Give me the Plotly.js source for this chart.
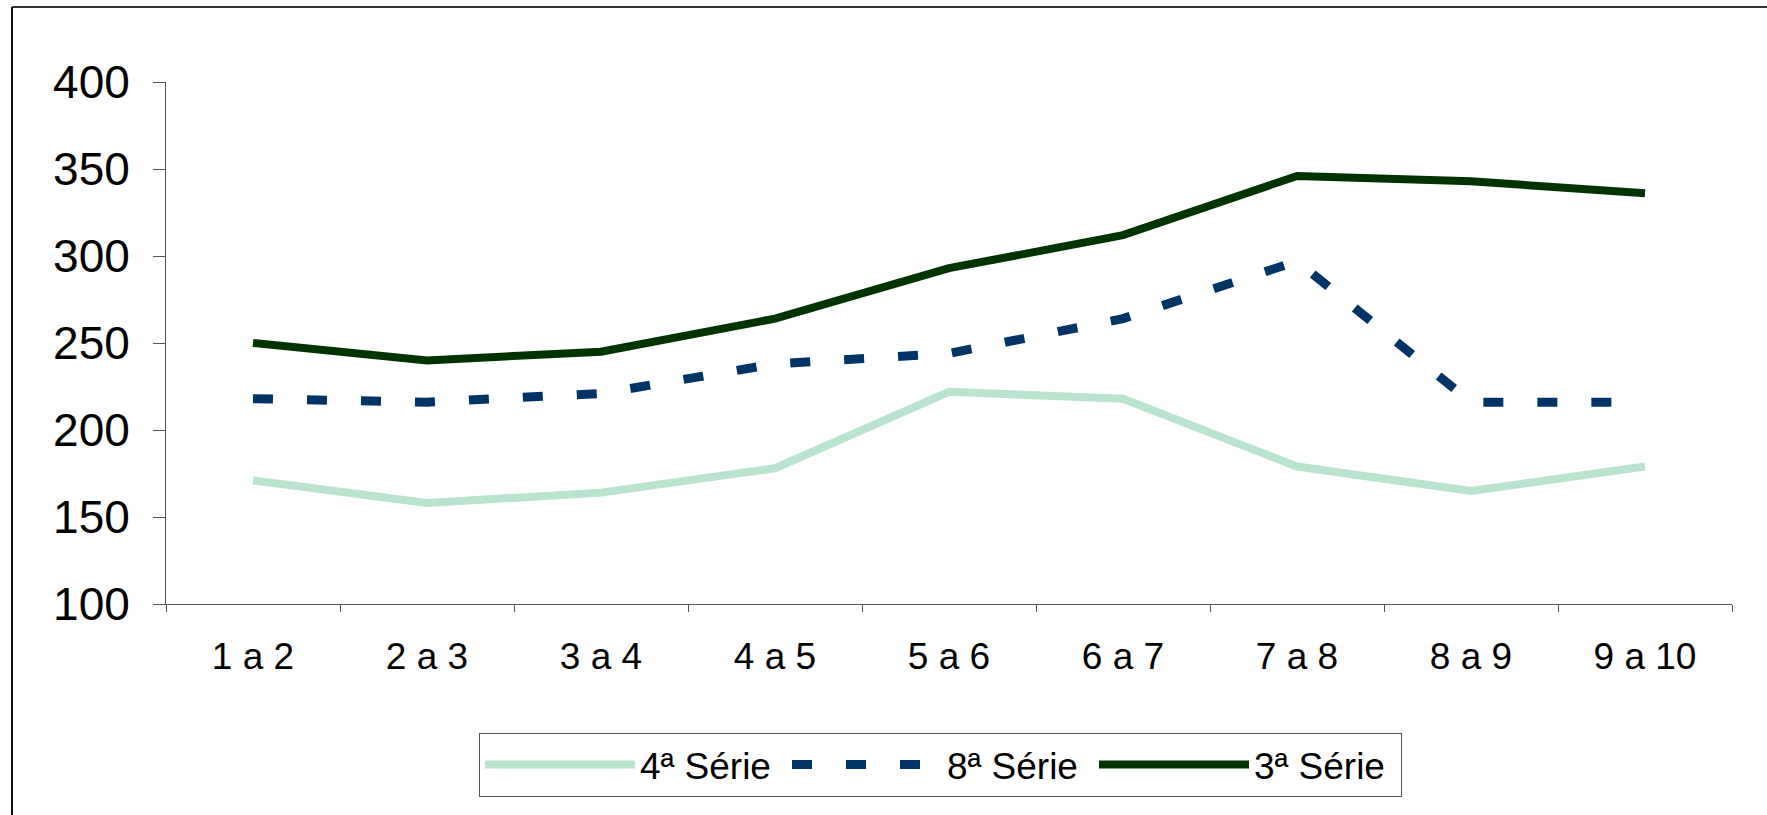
<!DOCTYPE html>
<html>
<head>
<meta charset="utf-8">
<script src="https://cdn.plot.ly/plotly-3.0.1.min.js"></script>
<style>
  html, body { margin: 0; padding: 0; background: #fff; overflow: hidden; }
  #chart { width: 1767px; height: 815px; }
</style>
</head>
<body>
<div id="chart"></div>
<script>
const categories = ['1 a 2', '2 a 3', '3 a 4', '4 a 5', '5 a 6', '6 a 7', '7 a 8', '8 a 9', '9 a 10'];
const serie4Name = '4ª Série';
const serie8Name = '8ª Série';
const serie3Name = '3ª Série';
const serie4 = [171, 158, 164, 178, 222, 218, 179, 165, 179];
const serie8 = [218, 216, 221, 238, 244, 264, 297, 216, 216];
const serie3 = [250, 240, 245, 264, 293, 312, 346, 343, 336];
const yTicks = [100, 150, 200, 250, 300, 350, 400];

const FONT = 'Liberation Sans, Arial, sans-serif';

const traces = [
  { x: categories, y: serie4, name: serie4Name, type: 'scatter', mode: 'lines',
    line: { color: '#b9e4cd', width: 8 } },
  { x: categories, y: serie8, name: serie8Name, type: 'scatter', mode: 'lines',
    line: { color: '#003366', width: 9, dash: '20px,34px' } },
  { x: categories, y: serie3, name: serie3Name, type: 'scatter', mode: 'lines',
    line: { color: '#003300', width: 8 } }
];

const W = 1767, H = 815;
const L = 166, R = 35, T = 82, B = 211;
const pw = W - L - R, ph = H - T - B;
function px(x) { return (x - L) / pw; }
function py(y) { return (H - B - y) / ph; }

const layout = {
  width: W, height: H,
  margin: { l: L, r: R, t: T, b: B, pad: 0 },
  paper_bgcolor: '#ffffff',
  plot_bgcolor: '#ffffff',
  font: { family: FONT, color: '#000000' },
  showlegend: true,
  legend: {
    orientation: 'h',
    x: px(479), y: py(733), xanchor: 'left', yanchor: 'top',
    bgcolor: '#ffffff', bordercolor: '#555555', borderwidth: 1,
    font: { family: FONT, size: 37, color: '#000000' },
    itemwidth: 150,
    entrywidth: 142,
    entrywidthmode: 'pixels',
    traceorder: 'normal'
  },
  xaxis: {
    type: 'category',
    range: [-0.5, categories.length - 0.5],
    showgrid: false, zeroline: false,
    showline: true, linecolor: '#555555', linewidth: 1,
    ticks: 'outside', ticklen: 7, tickcolor: '#555555', tickwidth: 1,
    tickson: 'boundaries',
    tickfont: { family: FONT, size: 37, color: '#000000' },
    ticklabelstandoff: 20
  },
  yaxis: {
    range: [100, 400],
    tickvals: yTicks,
    ticktext: yTicks.map(String),
    showgrid: false, zeroline: false,
    showline: true, linecolor: '#555555', linewidth: 1,
    ticks: 'outside', ticklen: 12, tickcolor: '#555555', tickwidth: 1,
    tickfont: { family: FONT, size: 46, color: '#000000' },
    ticklabelstandoff: 14
  },
  shapes: [
    { type: 'line', xref: 'paper', yref: 'paper', x0: px(12), x1: px(1800), y0: py(7), y1: py(7),
      line: { color: '#333333', width: 2 } },
    { type: 'line', xref: 'paper', yref: 'paper', x0: px(12), x1: px(12), y0: py(7), y1: py(830),
      line: { color: '#111111', width: 2 } }
  ]
};

Plotly.newPlot('chart', traces, layout, { displayModeBar: false, staticPlot: true });
</script>
</body>
</html>
